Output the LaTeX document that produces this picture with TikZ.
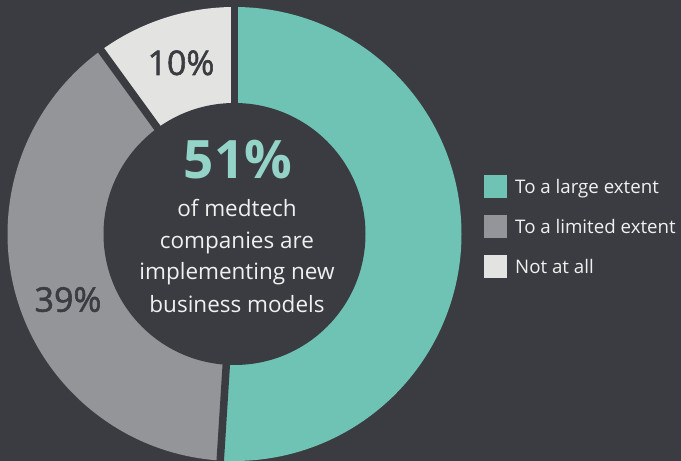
\documentclass[tikz,border=0pt]{standalone}
\usepackage{fontspec}
\setmainfont{Open Sans}
\newfontfamily\semibfont[FakeBold=1.6]{Open Sans}
\usetikzlibrary{calc}
\definecolor{bgc}{HTML}{3B3C41}
\definecolor{tealc}{HTML}{6FC3B4}
\definecolor{grayc}{HTML}{939598}
\definecolor{lightc}{HTML}{E3E3E1}
\definecolor{bigc}{HTML}{94D3C8}
\definecolor{txtc}{HTML}{F0F0F0}
\begin{document}
\begin{tikzpicture}[x=1pt,y=1pt,
  sep/.style={draw=bgc,line width=7.5pt},
  pct/.style={anchor=base,text=bgc,font=\semibfont\fontsize{34}{40}\selectfont,inner sep=0pt},
  body/.style={anchor=base,text=txtc,font=\fontsize{22.5}{31.7}\selectfont,inner sep=0pt},
  legbox/.style={minimum size=22.5pt,inner sep=0pt,draw=none},
  legtxt/.style={anchor=base west,text=txtc,font=\fontsize{18.7}{22}\selectfont,inner sep=0pt}]
\useasboundingbox (0,0) rectangle (681,461);
\fill[bgc] (0,0) rectangle (681,461);
\coordinate (c) at (234.5,227);
\def\Ro{227}
\fill[tealc] (c) -- ++(90:\Ro) arc[start angle=90,end angle=-93.6,radius=\Ro] -- cycle;
\fill[grayc] (c) -- ++(-93.6:\Ro) arc[start angle=-93.6,end angle=-234,radius=\Ro] -- cycle;
\fill[lightc] (c) -- ++(126:\Ro) arc[start angle=126,end angle=90,radius=\Ro] -- cycle;
\coordinate (e1) at ($(c)+(90:240)$);
\coordinate (e2) at ($(c)+(-93.6:240)$);
\coordinate (e3) at ($(c)+(126:240)$);
\draw[sep] (c) -- (e1);
\draw[sep] (c) -- (e2);
\draw[sep] (c) -- (e3);
\fill[bgc] (c) circle[radius=131];
\node[pct] (p10) at (181,386) {10\%};
\node[pct] (p39) at (68,149.3) {39\%};
\node[anchor=base,text=bigc,inner sep=0pt,font=\fontsize{53}{60}\selectfont\bfseries] (p51) at (238,282.7) {51\%};
\node[body] (l1) at (237,244.3) {of medtech};
\node[body] (l2) at (237,212.8) {companies are};
\node[body] (l3) at (237,181.2) {implementing new};
\node[body] (l4) at (237,148.5) {business models};
\node[legbox,fill=tealc] (k1) at (495.5,274.5) {};
\node[legbox,fill=grayc] (k2) at (495.5,234.5) {};
\node[legbox,fill=lightc] (k3) at (495.5,194.5) {};
\node[legtxt] (t1) at (515,267.5) {To a large extent};
\node[legtxt] (t2) at (515,227.5) {To a limited extent};
\node[legtxt] (t3) at (515,187.5) {Not at all};
\end{tikzpicture}
\end{document}
